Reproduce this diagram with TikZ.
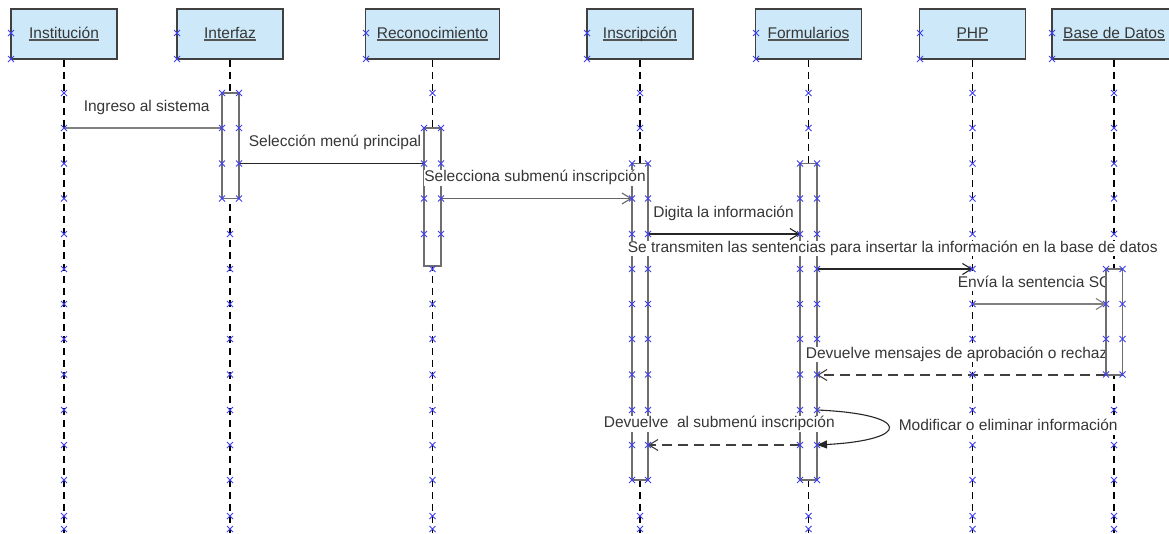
\documentclass[tikz,border=0pt]{standalone}
\usepackage{fontspec}
\setmainfont{Liberation Sans}
\usetikzlibrary{arrows.meta}
\definecolor{hdrfill}{HTML}{CDE9F9}
\definecolor{hdrline}{HTML}{404040}
\definecolor{txtc}{HTML}{363636}
\definecolor{mkc}{HTML}{4040F4}
\definecolor{barline}{HTML}{6E6E6E}
\newcommand\lblfont{\fontsize{15.5}{18}\selectfont}
\newcommand\ulname[1]{\setbox0\hbox{#1}\leavevmode\rlap{\color{txtc!85}\rule[-2.6pt]{\wd0}{1.2pt}}\box0}
\newcommand\mk[2]{\draw[mkline] ({#1-3},{#2-3})--({#1+3},{#2+3}) ({#1-3},{#2+3})--({#1+3},{#2-3});}
\tikzset{
  hdr/.style={draw=hdrline, line width=1.6pt, fill=hdrfill, minimum height=50pt, inner sep=0pt, text=txtc, font=\lblfont, text height=11pt, text depth=3pt},
  life/.style={line width=1.2pt, dash pattern=on 7pt off 5pt, black},
  actbar/.style={draw=barline, line width=1.6pt, fill=white},
  msglabel/.style={anchor=west, fill=white, inner sep=0.6pt, text=txtc, font=\lblfont, text height=11.2pt, text depth=3.3pt},
  msg/.style={line width=1.1pt, draw=black!85},
  msggrey/.style={line width=1.8pt, draw=black!50},
  retmsg/.style={line width=1.2pt, draw=black!75, dash pattern=on 10pt off 6pt},
  openhead/.style={-{Straight Barb[length=9pt,width=11pt,line width=1.1pt]}},
  fullhead/.style={-{Triangle[length=10pt,width=8pt]}},
  mkline/.style={draw=mkc, line width=0.8pt},
}
\begin{document}
\begin{tikzpicture}[x=1pt,y=-1pt]
\useasboundingbox (0,0) rectangle (1169,533);
\clip (0,0) rectangle (1169,533);
\fill[white] (0,0) rectangle (1169,533);

% lifeline ends
\coordinate (eInst) at (64,533);
\coordinate (eInt) at (230,533);
\coordinate (eRec) at (432.5,533);
\coordinate (eIns) at (640,533);
\coordinate (eFor) at (808.5,533);
\coordinate (ePHP) at (972.5,533);
\coordinate (eBD) at (1114,533);

% header boxes
\node[hdr, minimum width=106pt] (hInst) at (64,34) {\ulname{Institución}};
\node[hdr, minimum width=106pt] (hInt) at (230,34) {\ulname{Interfaz}};
\node[hdr, minimum width=134pt] (hRec) at (432.5,34) {\ulname{Reconocimiento}};
\node[hdr, minimum width=106pt] (hIns) at (640,34) {\ulname{Inscripción}};
\node[hdr, minimum width=106pt] (hFor) at (808.5,34) {\ulname{Formularios}};
\node[hdr, minimum width=106pt] (hPHP) at (972.5,34) {\ulname{PHP}};
\node[hdr, minimum width=124pt] (hBD) at (1114,34) {\ulname{Base de Datos}};

% lifelines
\draw[life] (hInst.south) -- (eInst);
\draw[life] (hInt.south) -- (eInt);
\draw[life] (hRec.south) -- (eRec);
\draw[life] (hIns.south) -- (eIns);
\draw[life] (hFor.south) -- (eFor);
\draw[life] (hPHP.south) -- (ePHP);
\draw[life] (hBD.south) -- (eBD);

% activation bars
\draw[actbar] (222,93) rectangle (239,198.5);
\draw[actbar] (424,128) rectangle (441,266);
\draw[actbar] (632,163.5) rectangle (648,480);
\draw[actbar] (800,163.5) rectangle (817,480);

% message end points
\coordinate (m1s) at (64,128);    \coordinate (m1e) at (222,128);
\coordinate (m2s) at (239,163.5); \coordinate (m2e) at (424,163.5);
\coordinate (m3s) at (441,198.5); \coordinate (m3e) at (632,198.5);
\coordinate (m4s) at (648,234);   \coordinate (m4e) at (800,234);
\coordinate (m5s) at (817,269);   \coordinate (m5e) at (972.5,269);
\coordinate (m6s) at (972.5,304); \coordinate (m6e) at (1106,304);
\coordinate (m7s) at (1106,375);  \coordinate (m7e) at (817,375);
\coordinate (m8s) at (817,410);   \coordinate (m8e) at (817,445);
\coordinate (m9s) at (800,445);   \coordinate (m9e) at (648,445);

% messages
\draw[msggrey] (m1s) -- (m1e);
\draw[msg] (m2s) -- (m2e);
\draw[msg, draw=black!60, openhead] (m3s) -- (m3e);
\draw[msg, openhead] (m4s) -- (m4e);
\draw[msg, openhead] (m5s) -- (m5e);
\draw[msggrey, openhead] (m6s) -- (m6e);
\draw[retmsg, openhead] (m7s) -- (m7e);
\draw[retmsg, openhead] (m9s) -- (m9e);

% labels
\node[msglabel] (l1) at (83,107.5) {Ingreso al sistema};
\node[msglabel] (l2) at (248,143) {Selección menú principal};
\node[msglabel] (l3) at (423.5,178) {Selecciona submenú inscripción};
\node[msglabel] (l4) at (652.5,213.5) {Digita la información};
\node[msglabel] (l5) at (627,248.5) {Se transmiten las sentencias para insertar la información en la base de datos};
\node[msglabel] (l6) at (957,283.5) {Envía la sentencia SQL};
\node[msglabel] (l7) at (805,354.5) {Devuelve mensajes de aprobación o rechazo};
\node[msglabel] (l9) at (603,424) {Devuelve\ \ al submenú inscripción};
\node[msglabel] (l8) at (898,427) {Modificar o eliminar información};

% Base de Datos bar drawn over labels
\draw[actbar] (1106,269) rectangle (1122.5,375);

% self message
\draw[msg, fullhead] (m8s) .. controls (912,414) and (912,440) .. (m8e);

% selection markers
\foreach \xx in {11,177,366,587,756,920,1052} {\mk{\xx}{33}\mk{\xx}{59}}
\foreach \yy in {93,128,163.5,198.5,234,269,304,339,374.5,410,445,480,516,529} {\mk{64}{\yy}\mk{972.5}{\yy}}
\foreach \yy in {93,128,163.5,198.5} {\mk{222}{\yy}\mk{239}{\yy}}
\foreach \yy in {234,269,304,339,374.5,410,445,480,516,529} {\mk{230}{\yy}}
\foreach \yy in {128,163.5,198.5,234} {\mk{424}{\yy}\mk{441}{\yy}}
\foreach \yy in {93,269,304,339,374.5,410,445,480,516,529} {\mk{432.5}{\yy}}
\foreach \yy in {163.5,198.5,234,269,304,339,374.5,410,445,480} {\mk{632}{\yy}\mk{648}{\yy}\mk{800}{\yy}\mk{817}{\yy}}
\foreach \yy in {93,128,516,529} {\mk{640}{\yy}\mk{808.5}{\yy}}
\foreach \yy in {269,304,339,374.5} {\mk{1106}{\yy}\mk{1122.5}{\yy}}
\foreach \yy in {93,128,163.5,198.5,234,410,445,480,516,529} {\mk{1114}{\yy}}
\end{tikzpicture}
\end{document}
